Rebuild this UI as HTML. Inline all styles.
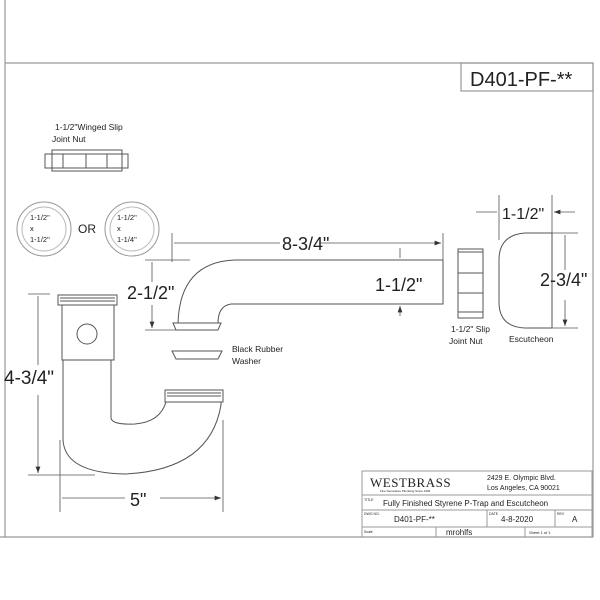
<!DOCTYPE html><html><head><style>body{margin:0;background:#fff}svg{display:block}text{font-family:"Liberation Sans",sans-serif;fill:#222}</style></head><body>
<svg width="600" height="600" viewBox="0 0 600 600" xmlns="http://www.w3.org/2000/svg">
<defs><marker id="a" markerWidth="8" markerHeight="6" refX="8" refY="3" orient="auto"><path d="M0,0 L8,3 L0,6z" fill="#333"/></marker></defs>
<g fill="none" stroke="#999" stroke-width="1.2">
<path d="M5,0 V537 M0,537 H593 V63 H5"/>
<rect x="461" y="63" width="132" height="28"/>
</g>
<text x="470" y="86" font-size="20">D401-PF-**</text>
<!-- title block -->
<g fill="none" stroke="#999" stroke-width="1">
<rect x="362" y="471" width="230" height="66"/>
<path d="M362,495H592M362,510H592M362,527H592M487,510V527M555,510V527M436,527V537M525,527V537"/>
</g>
<text x="370" y="487" font-size="13" font-family="Liberation Serif" style="font-family:'Liberation Serif',serif" letter-spacing="0.5">WESTBRASS</text>
<text x="380" y="492" font-size="3">Fine Decorative Plumbing Since 1945</text>
<text x="487" y="480" font-size="7">2429 E. Olympic Blvd.</text>
<text x="487" y="490" font-size="7">Los Angeles, CA 90021</text>
<text x="364" y="501" font-size="3.5">TITLE</text>
<text x="383" y="506" font-size="8">Fully Finished Styrene P-Trap and Escutcheon</text>
<text x="364" y="515" font-size="3.5">DWG NO.</text>
<text x="394" y="522" font-size="8">D401-PF-**</text>
<text x="489" y="515" font-size="3.5">DATE</text>
<text x="501" y="522" font-size="8">4-8-2020</text>
<text x="557" y="515" font-size="3.5">REV</text>
<text x="572" y="522" font-size="8">A</text>
<text x="364" y="533" font-size="3.5">Scale</text>
<text x="446" y="535" font-size="8">mrohlfs</text>
<text x="529" y="534" font-size="4">Sheet    1  of  1</text>
<!-- parts -->
<g fill="none" stroke="#555" stroke-width="1">
<rect x="45" y="154" width="83" height="14"/><rect x="52" y="150" width="70" height="21"/>
<path d="M63,154V168M86,154V168M107,154V168"/>
<circle cx="44" cy="229" r="27" stroke="#999"/><circle cx="44" cy="229" r="22" stroke="#bbb"/>
<circle cx="132" cy="229" r="27" stroke="#999"/><circle cx="132" cy="229" r="22" stroke="#bbb"/>
<!-- tailpiece -->
<path d="M443,260H235Q180,262 178,323M443,260V304H231Q218,306 218,323"/>
<path d="M173,323H221L218,330H176Z"/>
<path d="M172,351H222L218,359H176Z"/>
<!-- ptrap -->
<rect x="58" y="295" width="59" height="10"/><path d="M60,298H115M60,301H115"/>
<rect x="62" y="305" width="52" height="55"/>
<circle cx="87" cy="334" r="10"/>
<path d="M63,360V440Q65,473 125,474Q210,470 221,405V402M111,360V418Q112,425 135,424Q160,422 166,402"/>
<rect x="165" y="390" width="58" height="12"/><path d="M167,393H221M167,396H221"/>
<!-- slip nut -->
<rect x="458" y="249" width="25" height="69"/><path d="M458,252H483M458,273H483M458,293H483M458,312H483"/>
<!-- escutcheon -->
<path d="M552,233H525Q499,235 499,260V302Q499,327 525,328H552Z"/>
</g>
<!-- dims -->
<g fill="none" stroke="#555" stroke-width="0.8">
<path d="M172,233V262M443,233V264M145,260H190M145,330H190M28,294H50M28,475H95M60,440V512M223,420V512M499,195V240M552,195V240M552,233H578M552,328H578"/>
<path d="M280,243H174M320,243H441" marker-end="url(#a)"/>
<path d="M400,248V258M400,316V306" marker-end="url(#a)"/>
<path d="M152,282V262M152,305V328" marker-end="url(#a)"/>
<path d="M38,365V296M38,395V473" marker-end="url(#a)"/>
<path d="M125,498H62M160,498H221" marker-end="url(#a)"/>
<path d="M476,212H497M575,212H554" marker-end="url(#a)"/>
<path d="M565,270V235M565,300V326" marker-end="url(#a)"/>
</g>
<g font-size="8.5"><text x="55" y="130">1-1/2"Winged Slip</text><text x="52" y="142">Joint Nut</text>
<text x="30" y="220" font-size="7.5">1-1/2"</text><text x="30" y="231" font-size="7.5">x</text><text x="30" y="242" font-size="7.5">1-1/2"</text>
<text x="117" y="220" font-size="7.5">1-1/2"</text><text x="117" y="231" font-size="7.5">x</text><text x="117" y="242" font-size="7.5">1-1/4"</text>
<text x="78" y="233" font-size="12">OR</text>
<text x="232" y="352">Black Rubber</text><text x="232" y="364">Washer</text>
<text x="451" y="332">1-1/2" Slip</text><text x="449" y="344">Joint Nut</text>
<text x="509" y="342">Escutcheon</text></g>
<g font-size="18"><text x="282" y="250">8-3/4"</text><text x="127" y="299">2-1/2"</text><text x="375" y="291">1-1/2"</text>
<text x="4" y="384" font-size="19">4-3/4"</text><text x="130" y="506">5"</text>
<text x="502" y="219" font-size="16">1-1/2"</text><text x="540" y="286">2-3/4"</text></g>
</svg></body></html>
